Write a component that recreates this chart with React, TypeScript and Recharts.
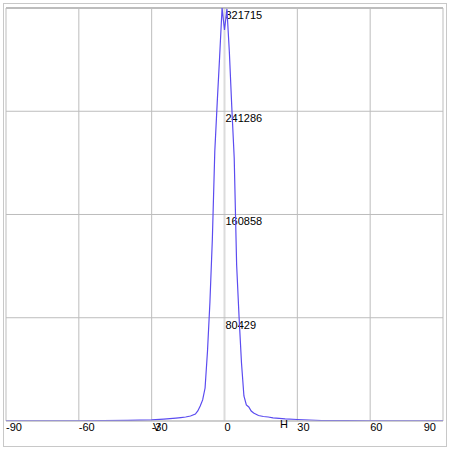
import React from "react";
import { LineChart, Line, XAxis, YAxis, ReferenceLine } from "recharts";

// hue histogram, degrees -> pixel count
const hues = [
  -90, -80, -70, -60, -50, -40, -30, -25, -20, -18, -16, -14, -12, -11, -10, -9,
  -8, -7, -6, -5, -4, -3, -2, -1, 0, 1, 2, 3, 4, 5, 6, 7, 8, 9, 10, 11, 12, 14,
  16, 18, 20, 25, 30, 40, 50, 60, 70, 80, 90,
];
const counts = [
  100, 120, 150, 200, 300, 420, 800, 1500, 2300, 2700, 3100, 3900, 5400, 7800,
  11700, 16400, 25700, 54500, 92700, 141800, 210000, 248000, 284000, 321715,
  304600, 321000, 287500, 244600, 204900, 121500, 81000, 45200, 19500, 12500,
  10900, 7800, 6200, 4300, 3500, 3100, 2500, 1700, 1170, 400, 300, 200, 150, 120,
  100,
];
const xTicks = [-90, -60, -30, 0, 30, 60, 90];
const yTicks = [0, 80429, 160858, 241286, 321715];
const yMax = 321715;

const data = hues.map((h, i) => ({ hue: h, count: counts[i] }));

const W = 450;
const H = 453;
const margin = { top: 8, right: 7, left: 6, bottom: 0 };

const font = "'Liberation Sans', Arial, sans-serif";
const gridColor = "#bdbdbd";

function XTick(props: any) {
  const { x, y, payload } = props;
  const last = payload.value === xTicks[xTicks.length - 1];
  return (
    <text
      x={last ? x - 7 : x}
      y={y + 2}
      textAnchor={last ? "end" : "start"}
      fontFamily={font}
      fontSize={11}
      fill="#000"
    >
      {payload.value}
    </text>
  );
}

// value label sitting just under a horizontal grid line, at the plot centre
function yLabel(value: number) {
  return (props: any) => {
    const vb = props.viewBox || {};
    if (value === 0) return <g />;
    return (
      <text
        x={vb.x + vb.width / 2 + 1}
        y={vb.y + 11}
        textAnchor="start"
        fontFamily={font}
        fontSize={11}
        fill="#000"
      >
        {value}
      </text>
    );
  };
}

export default function App() {
  return (
    <div
      style={{
        position: "absolute",
        left: 0,
        top: 0,
        width: W,
        height: H,
        background: "#fff",
      }}
    >
      <div
        style={{
          position: "absolute",
          left: 3,
          top: 3,
          width: 442,
          height: 442,
          border: "1px solid #c8c8c8",
        }}
      />
      <div style={{ position: "absolute", left: 0, top: 0 }}>
        <LineChart width={W} height={H} data={data} margin={margin}>
          <XAxis
            type="number"
            dataKey="hue"
            domain={[-90, 90]}
            ticks={xTicks}
            interval={0}
            height={32}
            axisLine={{ stroke: gridColor }}
            tickLine={false}
            tick={<XTick />}
          />
          <YAxis
            type="number"
            domain={[0, yMax]}
            ticks={yTicks}
            width={0}
            axisLine={false}
            tickLine={false}
            tick={false}
            allowDataOverflow
          />
          {xTicks.map((v) => (
            <ReferenceLine
              key={"x" + v}
              x={v}
              stroke={v === 0 ? "#dcdcdc" : gridColor}
              strokeWidth={v === 0 ? 2 : 1}
            />
          ))}
          {yTicks.map((v) => (
            <ReferenceLine
              key={"y" + v}
              y={v}
              stroke={gridColor}
              strokeWidth={v === yMax ? 2 : 1}
              label={yLabel(v)}
            />
          ))}
          <Line
            type="linear"
            dataKey="count"
            stroke="#5b4cf0"
            strokeWidth={1.2}
            dot={false}
            isAnimationActive={false}
          />
        </LineChart>
      </div>
      <span
        style={{
          position: "absolute",
          left: 153,
          top: 421,
          fontFamily: font,
          fontSize: 11,
        }}
      >
        V
      </span>
      <span
        style={{
          position: "absolute",
          left: 280,
          top: 418,
          fontFamily: font,
          fontSize: 11,
        }}
      >
        H
      </span>
    </div>
  );
}
